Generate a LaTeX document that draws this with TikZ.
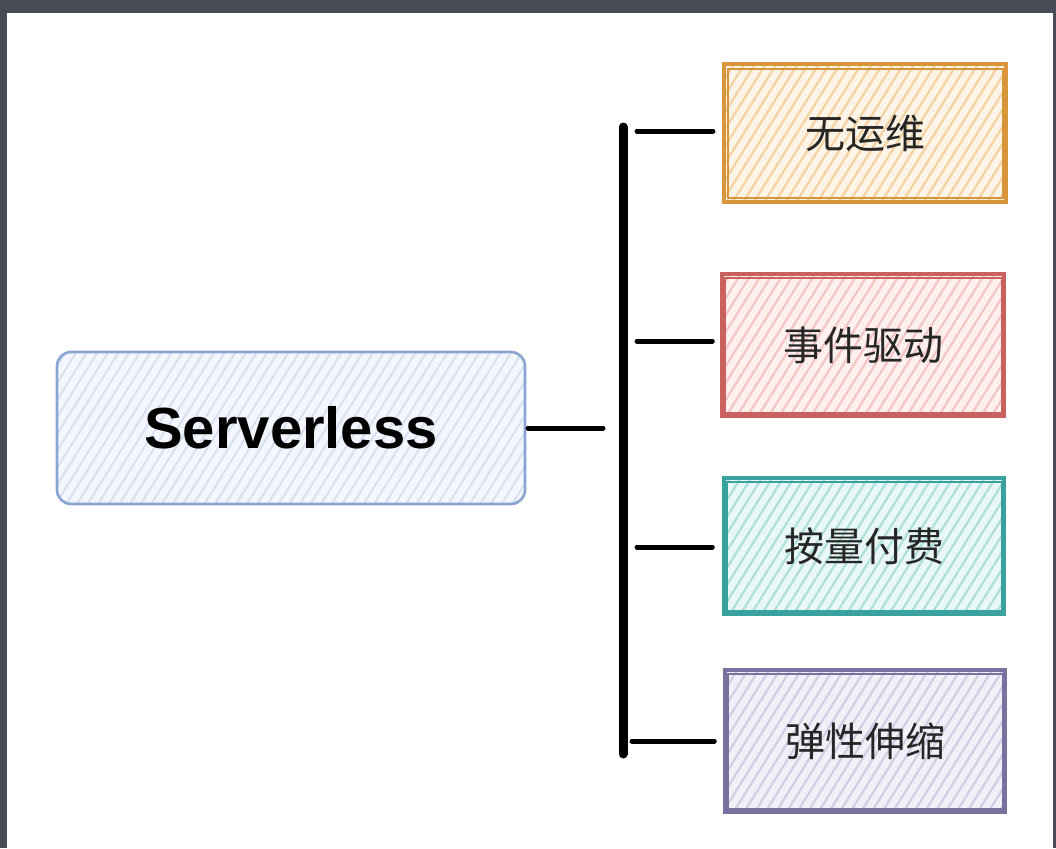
\documentclass[tikz,border=0pt]{standalone}
\usepackage{fontspec}
\setmainfont{Liberation Sans}
\newfontfamily\cjk{Noto Sans CJK SC}
\usetikzlibrary{patterns.meta}
\definecolor{frame}{HTML}{484C56}
\definecolor{ostroke}{HTML}{D8963A}\definecolor{ofill}{HTML}{FDF4E8}\definecolor{oline}{HTML}{F4D2A2}
\definecolor{rstroke}{HTML}{C9625E}\definecolor{rfill}{HTML}{FDF0EF}\definecolor{rline}{HTML}{F3C6C4}
\definecolor{tstroke}{HTML}{3AA29E}\definecolor{tfill}{HTML}{E9F7F6}\definecolor{tline}{HTML}{AEDFDC}
\definecolor{pstroke}{HTML}{77729F}\definecolor{pfill}{HTML}{F1F0F7}\definecolor{pline}{HTML}{D0CEE4}
\definecolor{bstroke}{HTML}{8AA5D3}\definecolor{bfill}{HTML}{F3F6FC}\definecolor{bline}{HTML}{D8E1F1}
\definecolor{txt}{HTML}{262626}
\tikzset{
  sketchbox/.style n args={3}{rectangle, draw=#1, line width=3.4pt,
    preaction={fill=#3},
    pattern={Lines[angle=58,distance=9pt,line width=2.2pt]}, pattern color=#2,
    font=\cjk\fontsize{40}{44}\selectfont, text=txt, inner sep=0pt},
  innerline/.style={line width=2.2pt},
  branch/.style={line width=5pt, line cap=round, black},
}
\begin{document}
\begin{tikzpicture}[x=1pt,y=-1pt]
\useasboundingbox (0,0) rectangle (1056,848);
\fill[frame] (0,0) rectangle (1056,848);
\fill[white] (7,13) rectangle (1053,848);

% left node
\node[rectangle, rounded corners=14pt, draw=bstroke, line width=2.6pt,
  preaction={fill=bfill},
  pattern={Lines[angle=58,distance=9pt,line width=2pt]}, pattern color=bline,
  minimum width=468pt, minimum height=152pt, inner sep=0pt,
  font=\fontsize{58}{62}\selectfont\bfseries, text=black] (srv) at (291,428) {Serverless};

% right boxes
\node[sketchbox={ostroke}{oline}{ofill}, minimum width=282pt, minimum height=138pt] (b1) at (865,133) {无运维};
\node[sketchbox={rstroke}{rline}{rfill}, minimum width=282pt, minimum height=142pt] (b2) at (863,345) {事件驱动};
\node[sketchbox={tstroke}{tline}{tfill}, minimum width=280pt, minimum height=136pt] (b3) at (864,546) {按量付费};
\node[sketchbox={pstroke}{pline}{pfill}, minimum width=280pt, minimum height=142pt] (b4) at (865,741) {弹性伸缩};

% sketchy inner borders
\draw[ostroke, innerline] ([shift={(5,6)}]b1.north west) rectangle ([shift={(-4,-5)}]b1.south east);
\draw[rstroke, innerline] ([shift={(5,6)}]b2.north west) rectangle ([shift={(-4,-5)}]b2.south east);
\draw[tstroke, innerline] ([shift={(5,6)}]b3.north west) rectangle ([shift={(-4,-5)}]b3.south east);
\draw[pstroke, innerline] ([shift={(5,6)}]b4.north west) rectangle ([shift={(-4,-5)}]b4.south east);

% trunk
\coordinate (top) at (623,127);
\coordinate (bot) at (623,754);
\draw[line width=9pt, line cap=round] (top) -- (bot);
\coordinate (sj) at (603,428);
\draw[branch] ([xshift=2pt]srv.east) -- (sj);

\coordinate (j1) at (637,131);
\coordinate (j2) at (637,341);
\coordinate (j3) at (637,547);
\coordinate (j4) at (632,741);
\draw[branch] (j1) -- ([xshift=-10pt]b1.west |- j1);
\draw[branch] (j2) -- ([xshift=-8pt]b2.west |- j2);
\draw[branch] (j3) -- ([xshift=-10pt]b3.west |- j3);
\draw[branch] (j4) -- ([xshift=-9pt]b4.west |- j4);
\end{tikzpicture}
\end{document}
